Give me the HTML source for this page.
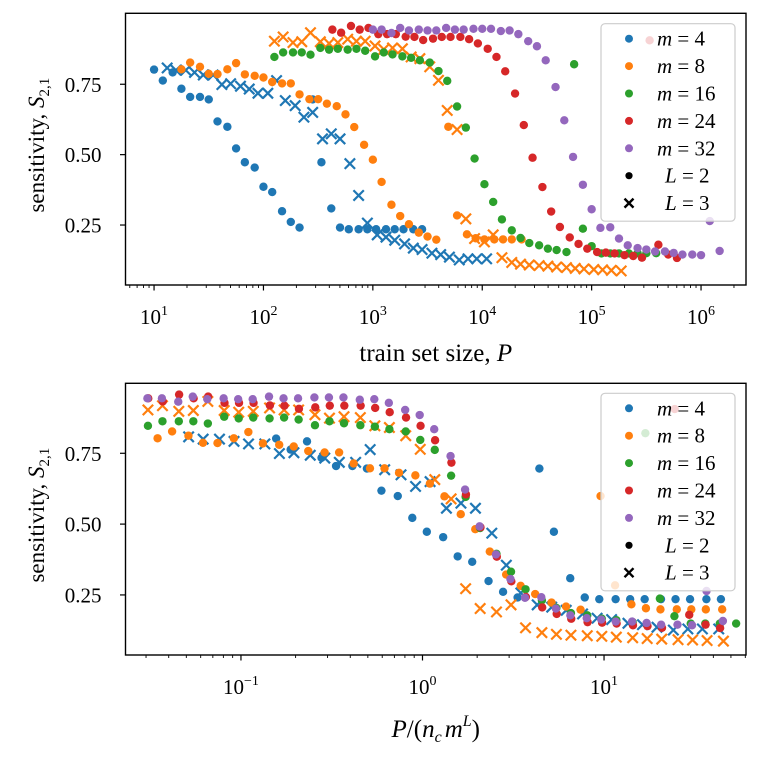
<!DOCTYPE html>
<html><head><meta charset="utf-8"><style>
body{margin:0;background:#fff}
svg{display:block;font-family:"Liberation Serif","DejaVu Serif",serif}
</style></head><body>
<svg id="chart" width="760" height="760" viewBox="0 0 760 760" xmlns="http://www.w3.org/2000/svg">
<rect width="760" height="760" fill="#fff"/>
<g id="top-panel"></g>
<g id="bottom-panel"></g>
</svg>
<script>
// ---- data (top panel x = log10 P, y = sensitivity S_{2,1}) ----
const mValues = [4, 8, 16, 24, 32];
const colors = ["#1f77b4", "#ff7f0e", "#2ca02c", "#d62728", "#9467bd"];
const legendLabels = ["m = 4", "m = 8", "m = 16", "m = 24", "m = 32"];
const topXTicks = [1, 2, 3, 4, 5, 6];
const bottomXTicks = [-1, 0, 1];
const yTicks = [0.25, 0.50, 0.75];
const yTickLabels = ["0.25", "0.50", "0.75"];

const m4L2aLogP = [1.00,1.08,1.17,1.25,1.33,1.42,1.50,1.58,1.67,1.75,1.83,1.92,2.00,2.08,2.17,2.25,2.33];
const m4L2aS = [0.802,0.763,0.792,0.734,0.705,0.705,0.696,0.618,0.599,0.522,0.473,0.454,0.386,0.367,0.299,0.261,0.241];
const m4L2bLogP = [2.45,2.53,2.62,2.70,2.78,2.87,2.95,3.03,3.12,3.20,3.28,3.37,3.45];
const m4L2bS = [0.696,0.473,0.309,0.241,0.235,0.235,0.235,0.235,0.235,0.235,0.235,0.235,0.235];
const m4L3LogP = [1.12,1.20,1.29,1.37,1.45,1.54,1.62,1.70,1.79,1.87,1.95,2.04,2.12,2.20,2.29,2.37,2.45,2.54,2.62,2.70,2.79,2.87,2.95,3.04,3.12,3.20,3.29,3.37,3.45,3.54,3.62,3.70,3.79,3.87,3.95,4.04];
const m4L3S = [0.808,0.800,0.800,0.792,0.783,0.783,0.749,0.752,0.743,0.733,0.718,0.718,0.763,0.692,0.674,0.633,0.650,0.556,0.574,0.556,0.468,0.355,0.257,0.215,0.207,0.196,0.183,0.168,0.163,0.150,0.145,0.136,0.126,0.130,0.130,0.130];
const m8L2aLogP = [1.25,1.33,1.42,1.50,1.58,1.67,1.75,1.83,1.92,2.00,2.08,2.17,2.25,2.33,2.42,2.50,2.58,2.67,2.75,2.83,2.92,3.00,3.08,3.17,3.25,3.33,3.42,3.50,3.58];
const m8L2aS = [0.803,0.827,0.812,0.787,0.786,0.803,0.825,0.785,0.780,0.774,0.758,0.753,0.753,0.714,0.697,0.697,0.681,0.672,0.643,0.598,0.535,0.482,0.403,0.322,0.282,0.253,0.223,0.209,0.198];
const m8L2bLogP = [3.69,3.77,3.86,3.94,4.02,4.11,4.19,4.27,4.36];
const m8L2bS = [0.599,0.284,0.217,0.203,0.199,0.199,0.199,0.199,0.199];
const m8L3LogP = [2.10,2.18,2.27,2.35,2.43,2.52,2.60,2.68,2.77,2.85,2.93,3.02,3.10,3.18,3.27,3.35,3.43,3.52,3.60,3.68,3.77,3.85,3.93,4.02,4.10,4.18,4.27,4.35,4.43,4.52,4.60,4.68,4.77,4.85,4.93,5.02,5.10,5.18,5.27];
const m8L3S = [0.903,0.918,0.898,0.901,0.933,0.901,0.895,0.898,0.910,0.903,0.903,0.886,0.874,0.879,0.876,0.847,0.841,0.812,0.764,0.657,0.589,0.272,0.202,0.190,0.215,0.134,0.117,0.111,0.108,0.106,0.104,0.101,0.099,0.096,0.094,0.092,0.091,0.089,0.087];
const m16L2aLogP = [2.10,2.18,2.27,2.35,2.43,2.52,2.60,2.68,2.77,2.85,2.93,3.02,3.10,3.18,3.27,3.35,3.43,3.52,3.60,3.68,3.77,3.85,3.93,4.02,4.10,4.18,4.27,4.35,4.43,4.52,4.60,4.68,4.77];
const m16L2aS = [0.847,0.863,0.863,0.863,0.855,0.879,0.873,0.876,0.873,0.876,0.869,0.849,0.863,0.856,0.849,0.844,0.835,0.827,0.797,0.762,0.671,0.596,0.486,0.395,0.332,0.270,0.231,0.204,0.186,0.178,0.166,0.161,0.154];
const m16L2bLogP = [4.84,4.92,5.00,5.09,5.17,5.25,5.34,5.42,5.50,5.59];
const m16L2bS = [0.821,0.237,0.175,0.149,0.149,0.149,0.149,0.150,0.150,0.150];
const m24L2aLogP = [2.63,2.71,2.80,2.88,2.96,3.05,3.13,3.21,3.30,3.38,3.46,3.55,3.63,3.71,3.80,3.88,3.96,4.05,4.13,4.21,4.30,4.38,4.46,4.55,4.63,4.71,4.80,4.88,4.96,5.05,5.13,5.21,5.30,5.38,5.46];
const m24L2aS = [0.944,0.933,0.957,0.944,0.950,0.928,0.928,0.928,0.919,0.918,0.907,0.912,0.918,0.918,0.918,0.910,0.895,0.876,0.847,0.796,0.717,0.605,0.489,0.385,0.298,0.243,0.206,0.183,0.166,0.154,0.152,0.149,0.143,0.140,0.134];
const m24L2bLogP = [5.53,5.61,5.70,5.78];
const m24L2bS = [0.906,0.180,0.145,0.133];
const m32L2LogP = [3.00,3.08,3.17,3.25,3.33,3.42,3.50,3.58,3.67,3.75,3.83,3.92,4.00,4.08,4.17,4.25,4.33,4.42,4.50,4.58,4.67,4.75,4.83,4.92,5.00,5.08,5.17,5.25,5.33,5.42,5.50,5.58,5.67,5.75,5.83,5.92,6.00,6.08,6.17];
const m32L2S = [0.944,0.944,0.932,0.950,0.941,0.944,0.941,0.941,0.950,0.944,0.944,0.947,0.947,0.947,0.939,0.941,0.928,0.903,0.885,0.835,0.740,0.622,0.492,0.393,0.306,0.240,0.242,0.202,0.178,0.168,0.163,0.156,0.156,0.151,0.145,0.145,0.143,0.264,0.158];
// n_c per series (bottom panel x = P / (n_c m^L))
const ncValues = [4, 8, 16, 24, 32];

const series = [
 {name:"m4-L2-run-a", mi:0, L:2, x:m4L2aLogP, y:m4L2aS},
 {name:"m4-L2-run-b", mi:0, L:2, x:m4L2bLogP, y:m4L2bS},
 {name:"m4-L3", mi:0, L:3, x:m4L3LogP, y:m4L3S},
 {name:"m8-L2-run-a", mi:1, L:2, x:m8L2aLogP, y:m8L2aS},
 {name:"m8-L2-run-b", mi:1, L:2, x:m8L2bLogP, y:m8L2bS},
 {name:"m8-L3", mi:1, L:3, x:m8L3LogP, y:m8L3S},
 {name:"m16-L2-run-a", mi:2, L:2, x:m16L2aLogP, y:m16L2aS},
 {name:"m16-L2-run-b", mi:2, L:2, x:m16L2bLogP, y:m16L2bS},
 {name:"m24-L2-run-a", mi:3, L:2, x:m24L2aLogP, y:m24L2aS},
 {name:"m24-L2-run-b", mi:3, L:2, x:m24L2bLogP, y:m24L2bS},
 {name:"m32-L2", mi:4, L:2, x:m32L2LogP, y:m32L2S}
];

const NS = "http://www.w3.org/2000/svg";
function mk(parent, tag, attrs){
  const e = document.createElementNS(NS, tag);
  for (const k in attrs) e.setAttribute(k, attrs[k]);
  parent.appendChild(e);
  return e;
}

const panels = [
 {g:"top-panel", prefix:"top", L:125.5, R:746, T:13.3, B:285, xmin:0.739, xmax:6.411, ymin:0.037, ymax:1.002,
  ticks:topXTicks, legendTop:23.7, xlabelY:361, ylabelX:38, transform:false},
 {g:"bottom-panel", prefix:"bottom", L:125.5, R:746, T:383.3, B:655, xmin:-1.636, xmax:1.782, ymin:0.038, ymax:0.997,
  ticks:bottomXTicks, legendTop:393.3, xlabelY:737, ylabelX:38, transform:true}
];

panels.forEach(p => {
  const g = document.getElementById(p.g);
  const sx = v => p.L + (v - p.xmin) / (p.xmax - p.xmin) * (p.R - p.L);
  const sy = v => p.B - (v - p.ymin) / (p.ymax - p.ymin) * (p.B - p.T);

  const cp = mk(g, "clipPath", {id: p.prefix + "-clip"});
  mk(cp, "rect", {x:p.L, y:p.T, width:p.R-p.L, height:p.B-p.T});
  const marks = mk(g, "g", {"clip-path": "url(#" + p.prefix + "-clip)"});
  
  

  series.forEach(s => {
    const sg = mk(marks, "g", {});
    
    
    const c = colors[s.mi];
    const shift = p.transform ? Math.log10(ncValues[s.mi] * Math.pow(mValues[s.mi], s.L)) : 0;
    s.x.forEach((lx, i) => {
      const cx = sx(lx - shift), cy = sy(s.y[i]);
      let el;
      if (s.L === 2) {
        el = mk(sg, "circle", {cx:cx, cy:cy, r:4.2, fill:c});
      } else {
        const d = 5.2;
        el = mk(sg, "path", {d:`M${cx-d},${cy-d}L${cx+d},${cy+d}M${cx-d},${cy+d}L${cx+d},${cy-d}`, stroke:c, "stroke-width":2.2, fill:"none"});
      }
      
      
    });
  });

  const fr = mk(g, "rect", {x:p.L, y:p.T, width:p.R-p.L, height:p.B-p.T, fill:"none", stroke:"#000", "stroke-width":1.4});
  
  

  const xa = mk(g, "g", {});
  
  
  for (let d = Math.floor(p.xmin); d <= Math.ceil(p.xmax); d++) {
    for (let k = 2; k <= 9; k++) {
      const v = d + Math.log10(k);
      if (v > p.xmin && v < p.xmax) {
        const t = mk(xa, "line", {x1:sx(v), x2:sx(v), y1:p.B, y2:p.B+3, stroke:"#000", "stroke-width":0.9});
        
        
      }
    }
  }
  p.ticks.forEach(v => {
    const x = sx(v);
    const t = mk(xa, "line", {x1:x, x2:x, y1:p.B, y2:p.B+5.5, stroke:"#000", "stroke-width":1.2});
    
    
    const tx = mk(xa, "text", {x:x, y:p.B+39, "font-size":21, "text-anchor":"middle"});
    
    
    const b = mk(tx, "tspan", {});
    b.textContent = "10";
    const e = mk(tx, "tspan", {dy:-9, "font-size":14});
    e.textContent = v < 0 ? "\u2212" + (-v) : String(v);
  });

  const ya = mk(g, "g", {});
  
  
  yTicks.forEach((v, i) => {
    const y = sy(v);
    const t = mk(ya, "line", {x1:p.L-5.5, x2:p.L, y1:y, y2:y, stroke:"#000", "stroke-width":1.2});
    
    
    const tx = mk(ya, "text", {x:p.L-24, y:y+7.5, "font-size":21, "text-anchor":"end"});
    
    
    tx.textContent = yTickLabels[i];
  });

  const cyL = (p.T + p.B) / 2 - 4;
  const yl = mk(g, "text", {x:0, y:0, "font-size":23, "text-anchor":"middle", transform:`translate(${p.ylabelX+6},${cyL}) rotate(-90)`});
  
  
  const y1 = mk(yl, "tspan", {}); y1.textContent = "sensitivity, ";
  const y2 = mk(yl, "tspan", {"font-style":"italic"}); y2.textContent = "S";
  const y3 = mk(yl, "tspan", {"font-size":15, dy:5}); y3.textContent = "2,1";

  const xl = mk(g, "text", {x:(p.L+p.R)/2, y:p.xlabelY, "font-size":25, "text-anchor":"middle"});
  
  
  if (!p.transform) {
    const a = mk(xl, "tspan", {}); a.textContent = "train set size, ";
    const b = mk(xl, "tspan", {"font-style":"italic"}); b.textContent = "P";
  } else {
    const a = mk(xl, "tspan", {"font-style":"italic"}); a.textContent = "P";
    const b = mk(xl, "tspan", {}); b.textContent = "/(";
    const c = mk(xl, "tspan", {"font-style":"italic"}); c.textContent = "n";
    const d = mk(xl, "tspan", {"font-style":"italic", "font-size":16, dy:5}); d.textContent = "c";
    const e = mk(xl, "tspan", {"font-style":"italic", dy:-5, dx:3}); e.textContent = "m";
    const f = mk(xl, "tspan", {"font-style":"italic", "font-size":16, dy:-11}); f.textContent = "L";
    const h = mk(xl, "tspan", {dy:11}); h.textContent = ")";
  }

  const lg = mk(g, "g", {});
  
  
  mk(lg, "rect", {x:601, y:p.legendTop, width:134, height:197.5, rx:4, fill:"rgba(255,255,255,0.8)", stroke:"#cccccc", "stroke-width":1.2});
  const rowY = i => p.legendTop + 15 + i * 27.4;
  mValues.forEach((m, i) => {
    const row = mk(lg, "g", {});
    
    
    mk(row, "circle", {cx:629, cy:rowY(i), r:4, fill:colors[i]});
    const t = mk(row, "text", {x:657, y:rowY(i)+7, "font-size":21});
    const a = mk(t, "tspan", {"font-style":"italic"}); a.textContent = "m";
    const b = mk(t, "tspan", {}); b.textContent = " = " + m;
  });
  ["L = 2", "L = 3"].forEach((lab, j) => {
    const i = 5 + j;
    const row = mk(lg, "g", {});
    
    
    const cy = rowY(i);
    if (j === 0) mk(row, "circle", {cx:629, cy:cy, r:3.6, fill:"#000"});
    else mk(row, "path", {d:`M${624.5},${cy-4.5}L${633.5},${cy+4.5}M${624.5},${cy+4.5}L${633.5},${cy-4.5}`, stroke:"#000", "stroke-width":2.4});
    const t = mk(row, "text", {x:665, y:cy+7, "font-size":21});
    const a = mk(t, "tspan", {"font-style":"italic"}); a.textContent = "L";
    const b = mk(t, "tspan", {}); b.textContent = " = " + (j + 2);
  });
});
</script>
</body></html>
